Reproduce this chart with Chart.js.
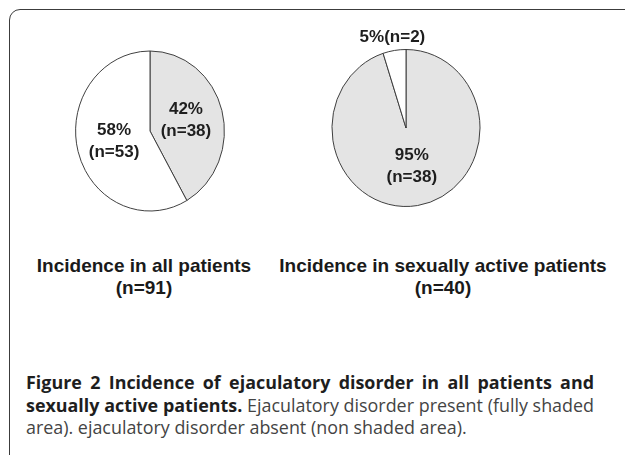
<!DOCTYPE html>
<html>
<head>
<meta charset="utf-8">
<script src="https://cdn.jsdelivr.net/npm/chart.js@4.4.1/dist/chart.umd.min.js"></script>
<style>
  html, body { margin: 0; padding: 0; background: #fff; }
  body { width: 625px; height: 455px; position: relative; overflow: hidden; }
  .frame { position: absolute; left: 9px; top: 9px; width: 700px; height: 520px;
           border: 1.5px solid #3c3c3c; border-radius: 11px; }
  canvas.pie { position: absolute; }
  .group { position: absolute; width: 400px; text-align: center; white-space: nowrap;
           font: bold 19px "Liberation Sans", Arial, sans-serif; line-height: 22px; color: #1a1a1a; }
  .caption { position: absolute; left: 26px; top: 371px; width: 568px;
             font-family: "Open Sans", sans-serif; font-size: 17.9px; line-height: 22.5px; color: #444; }
  .caption div { text-align: justify; text-align-last: justify; }
  .caption div.last { text-align: left; text-align-last: left; }
  .caption b { color: #1e1e1e; }
</style>
</head>
<body>
<div class="frame"></div>
<canvas id="pieAll" class="pie" width="200" height="200" style="left:50px; top:31px"></canvas>
<canvas id="pieActive" class="pie" width="200" height="200" style="left:306px; top:28px"></canvas>
<div id="groupAll" class="group" style="left:-56px; top:255px"></div>
<div id="groupActive" class="group" style="left:243px; top:255px"></div>
<div class="caption">
  <div><b>Figure 2 Incidence of ejaculatory disorder in all patients and</b></div>
  <div><b>sexually active patients.</b> Ejaculatory disorder present (fully shaded</div>
  <div class="last">area). ejaculatory disorder absent (non shaded area).</div>
</div>
<script>
'use strict';

// Données
var groupNames = ['Incidence in all patients', 'Incidence in sexually active patients'];
var sliceNames = ['Ejaculatory disorder present', 'Ejaculatory disorder absent'];
var allPatients = [38, 53];
var activePatients = [38, 2];
var sliceColors = ['#e4e4e4', '#ffffff'];

// Les camemberts de la figure sont un peu ovales
var ellipse = {
  id: 'ellipse',
  beforeDatasetsDraw: function (chart, args, opts) {
    var arc = chart.getDatasetMeta(0).data[0];
    var ctx = chart.ctx;
    ctx.save();
    ctx.translate(arc.x, arc.y);
    ctx.scale(opts.squeeze, 1);
    ctx.translate(-arc.x, -arc.y);
  },
  afterDatasetsDraw: function (chart) {
    chart.ctx.restore();
  }
};

var sliceLabels = {
  id: 'sliceLabels',
  afterDraw: function (chart) {
    var ctx = chart.ctx;
    var squeeze = chart.options.plugins.ellipse.squeeze;
    var values = chart.data.datasets[0].data;
    var total = values.reduce(function (a, b) { return a + b; }, 0);
    ctx.save();
    ctx.font = 'bold 17px "Liberation Sans", Arial, sans-serif';
    ctx.fillStyle = '#1e1e1e';
    ctx.textAlign = 'center';
    ctx.textBaseline = 'middle';
    chart.getDatasetMeta(0).data.forEach(function (arc, i) {
      var share = values[i] / total;
      var pct = Math.round(share * 100) + '%';
      var n = '(n=' + values[i] + ')';
      var mid = (arc.startAngle + arc.endAngle) / 2;
      var outside = share < 0.1;
      var f = outside ? 1.17 : 0.5;
      var x = arc.x + Math.cos(mid) * arc.outerRadius * f * squeeze;
      var y = arc.y + Math.sin(mid) * arc.outerRadius * f;
      if (outside) {
        ctx.fillText(pct + n, x, y);
      } else {
        ctx.fillText(pct, x, y - 11);
        ctx.fillText(n, x, y + 11);
      }
    });
    ctx.restore();
  }
};

function makePie(id, values, radius, squeeze) {
  return new Chart(document.getElementById(id), {
    type: 'pie',
    data: {
      labels: sliceNames,
      datasets: [{
        data: values,
        backgroundColor: sliceColors,
        borderColor: '#3a3a3a',
        borderWidth: 1
      }]
    },
    options: {
      responsive: false,
      animation: false,
      events: [],
      radius: radius,
      plugins: {
        legend: { display: false },
        tooltip: { enabled: false },
        ellipse: { squeeze: squeeze }
      }
    },
    plugins: [ellipse, sliceLabels]
  });
}

makePie('pieAll', allPatients, 80, 0.93);
makePie('pieActive', activePatients, 78.5, 0.943);

function sum(a) { return a.reduce(function (s, v) { return s + v; }, 0); }
document.getElementById('groupAll').innerHTML = groupNames[0] + '<br>(n=' + sum(allPatients) + ')';
document.getElementById('groupActive').innerHTML = groupNames[1] + '<br>(n=' + sum(activePatients) + ')';
</script>
</body>
</html>
